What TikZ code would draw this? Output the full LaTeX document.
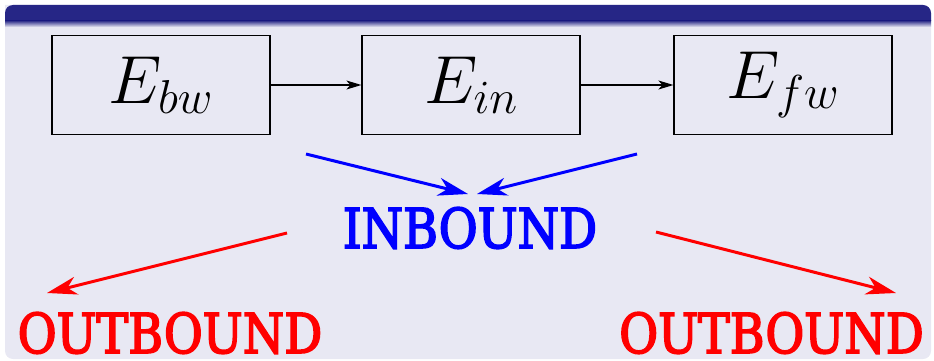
\RequirePackage{fix-cm}
\documentclass[tikz,border=0pt]{standalone}
\usepackage{fontspec}
\setmainfont{DejaVu Serif}
\newfontfamily\wordfont{DejaVu Serif}[FakeStretch=0.862, FakeBold=3]
\usetikzlibrary{arrows.meta}
\definecolor{titlebg}{RGB}{38,38,134}
\definecolor{bodybg}{RGB}{232,232,243}
\tikzset{
  ebox/.style={draw=black, line width=1.2pt, minimum width=218pt, minimum height=99pt, inner sep=0pt},
  emath/.style={font=\fontsize{68}{78}\selectfont},
  flowarrow/.style={draw=black, line width=1.2pt, -{Stealth[length=15pt, width=9pt, inset=4pt]}},
  inarrow/.style={draw={rgb,255:red,0;green,0;blue,255}, line width=3pt, -{Stealth[length=30pt, width=18pt, inset=9pt]}},
  outarrow/.style={draw={rgb,255:red,255;green,0;blue,0}, line width=3pt, -{Stealth[length=30pt, width=18pt, inset=9pt]}},
  bigword/.style={font=\wordfont\fontsize{55}{64}\selectfont, inner sep=0pt, text depth=0pt, anchor=base}
}
\begin{document}
\begin{tikzpicture}[x=1pt, y=-1pt]
\useasboundingbox (0,0) rectangle (934,361);
% block body
\fill[bodybg] (5,5) [rounded corners=8pt] -- (5,359) -- (931,359) -- (931,5) [sharp corners] -- cycle;
\fill[titlebg] (5,21) [rounded corners=8pt] -- (5,5) -- (931,5) [sharp corners] -- (931,21) -- cycle;
\shade[top color=titlebg, bottom color=bodybg] (5,20.5) rectangle (931,27);
% boxes
\node[ebox, emath] (ebw) at (161,85) {$E_{bw}$};
\node[ebox, emath] (ein) at (471,85) {$E_{in}$};
\node[ebox, emath] (efw) at (783,85) {$E_{fw}$};
\draw[flowarrow] (ebw.east) -- (ein.west);
\draw[flowarrow] (ein.east) -- (efw.west);
% labels
\node[bigword, text={rgb,255:red,0;green,0;blue,255}] (inb) at (470,248) {INBOUND};
\node[bigword, text={rgb,255:red,255;green,0;blue,0}] (outl) at (170,353) {OUTBOUND};
\node[bigword, text={rgb,255:red,255;green,0;blue,0}] (outr) at (771.5,353) {OUTBOUND};
% arrow endpoints
\coordinate (bl0) at (306,154);
\coordinate (bl1) at (468,194);
\coordinate (br0) at (637,154);
\coordinate (br1) at (477,194);
\coordinate (rl0) at (287,233);
\coordinate (rl1) at (47,293);
\coordinate (rr0) at (656,232);
\coordinate (rr1) at (896,293);
\draw[inarrow] (bl0) -- (bl1);
\draw[inarrow] (br0) -- (br1);
\draw[outarrow] (rl0) -- (rl1);
\draw[outarrow] (rr0) -- (rr1);
\end{tikzpicture}
\end{document}
